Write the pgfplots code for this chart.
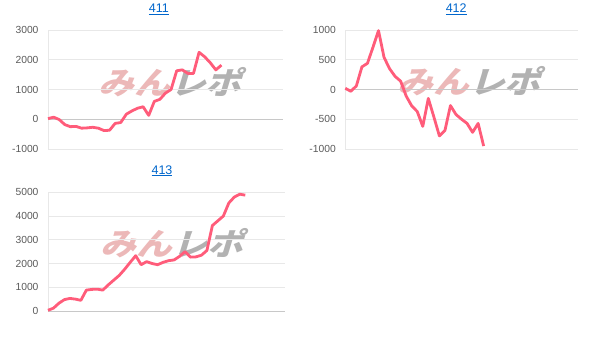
\documentclass[border=0pt]{standalone}
\usepackage{fontspec}
\setmainfont{Liberation Sans}
\newfontfamily\cjk{Noto Sans CJK JP}
\usepackage{pgfplots}
\pgfplotsset{compat=1.18}
\definecolor{linec}{RGB}{255,92,122}
\definecolor{gridc}{RGB}{232,232,232}
\definecolor{zeroc}{RGB}{200,200,200}
\definecolor{tickc}{RGB}{90,90,90}
\definecolor{linkc}{RGB}{0,102,204}
\definecolor{wmpink}{RGB}{236,184,184}
\definecolor{wmgray}{RGB}{178,178,178}

\pgfplotsset{minichart/.style={
  scale only axis, anchor=south west, xmin=0,
  axis line style={draw=none},
  xtick=\empty, ymajorgrids, major tick length=0pt,
  grid style={draw=gridc, line width=1pt},
  yticklabel style={font=\fontsize{10.3}{12}\selectfont, text=tickc, xshift=-6pt},
  extra y ticks={0}, extra y tick labels={},
  extra y tick style={grid style={draw=zeroc, line width=1pt}},
  title style={font=\fontsize{12.5}{14}\selectfont, text=linkc, anchor=center},
  clip=false,
}}
\tikzset{pinkline/.style={draw=linec, line width=2.8pt, line join=round, mark=none}}

\newcommand{\wm}{{\cjk\bfseries\color{wmpink}みん\color{wmgray}レポ}}

\begin{document}
\begin{tikzpicture}[x=1pt,y=1pt]
\path[use as bounding box] (0,0) rectangle (608,338);
% watermarks
\node[xslant=0.3, xscale=1.15, font=\fontsize{31}{31}\selectfont, inner sep=0pt] at (174,256) {\wm};
\node[xslant=0.3, xscale=1.15, font=\fontsize{31}{31}\selectfont, inner sep=0pt] at (473,257) {\wm};
\node[xslant=0.3, xscale=1.15, font=\fontsize{31}{31}\selectfont, inner sep=0pt] at (176,95) {\wm};

% 411
\begin{axis}[minichart, at={(48pt,189pt)}, width=235pt, height=119pt,
  xmax=42, ymin=-1000, ymax=3000,
  ytick={-1000,0,1000,2000,3000}, yticklabels={-1000,0,1000,2000,3000},
  title={\underline{411}}, title style={at={(axis description cs:0.472,1)}, yshift=15pt}]
\draw[gridc, line width=1pt] (axis description cs:0,0) -- (axis description cs:0,1);
\addplot[pinkline] coordinates {(0,20)(1,70)(2,-10)(3,-180)(4,-250)(5,-240)(6,-300)(7,-290)(8,-270)(9,-300)(10,-380)(11,-370)(12,-140)(13,-110)(14,170)(15,280)(16,370)(17,420)(18,130)(19,600)(20,670)(21,880)(22,1000)(23,1630)(24,1660)(25,1540)(26,1540)(27,2250)(28,2100)(29,1900)(30,1660)(31,1820)};
\end{axis}

% 412
\begin{axis}[minichart, at={(345.3pt,189pt)}, width=233pt, height=119pt,
  xmax=42.1, ymin=-1000, ymax=1000,
  ytick={-1000,-500,0,500,1000}, yticklabels={-1000,-500,0,500,1000},
  title={\underline{412}}, title style={at={(axis description cs:0.476,1)}, yshift=15pt}]
\draw[gridc, line width=1pt] (axis description cs:0,0) -- (axis description cs:0,1);
\addplot[pinkline] coordinates {(0,20)(1,-30)(2,60)(3,380)(4,440)(5,710)(6,990)(7,540)(8,350)(9,220)(10,140)(11,-110)(12,-275)(13,-370)(14,-620)(15,-150)(16,-460)(17,-780)(18,-690)(19,-270)(20,-420)(21,-500)(22,-570)(23,-720)(24,-570)(25,-950)};
\end{axis}

% 413
\begin{axis}[minichart, at={(48pt,27pt)}, width=237pt, height=118.7pt,
  xmax=43.25, ymin=0, ymax=5000,
  ytick={0,1000,2000,3000,4000,5000}, yticklabels={0,1000,2000,3000,4000,5000},
  title={\underline{413}}, title style={at={(axis description cs:0.481,1)}, yshift=15.6pt}]
\draw[gridc, line width=1pt] (axis description cs:0,0) -- (axis description cs:0,1);
\addplot[pinkline] coordinates {(0,30)(1,120)(2,330)(3,480)(4,530)(5,500)(6,450)(7,880)(8,910)(9,920)(10,880)(11,1100)(12,1300)(13,1500)(14,1760)(15,2050)(16,2330)(17,1950)(18,2080)(19,2000)(20,1950)(21,2050)(22,2120)(23,2150)(24,2300)(25,2500)(26,2270)(27,2280)(28,2350)(29,2550)(30,3600)(31,3800)(32,4000)(33,4550)(34,4800)(35,4920)(36,4880)};
\end{axis}
\end{tikzpicture}
\end{document}
